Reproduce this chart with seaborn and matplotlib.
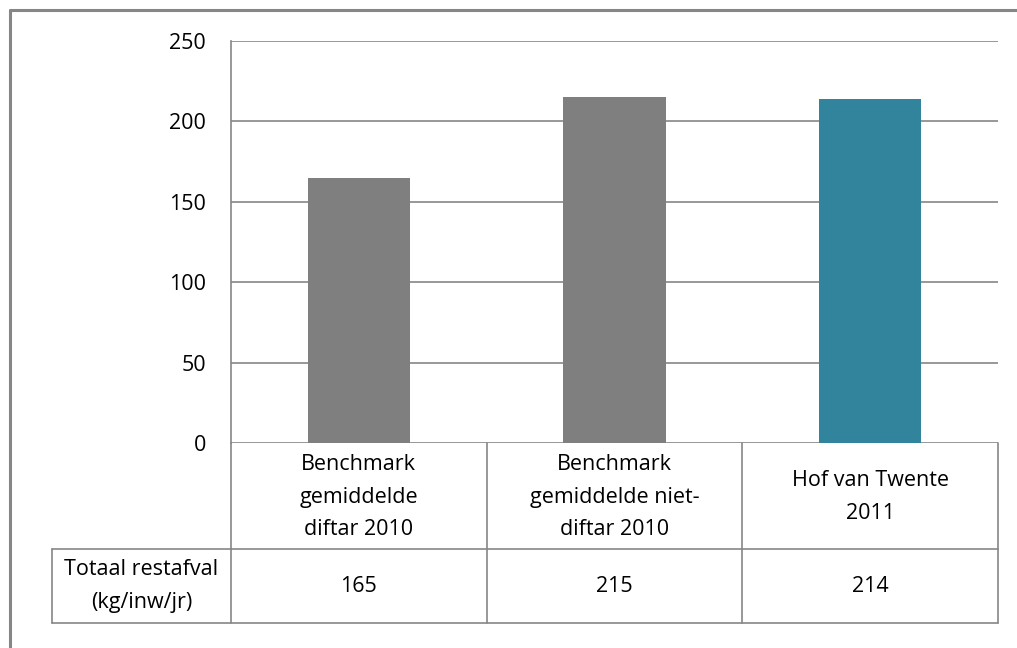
import matplotlib
matplotlib.use("Agg")
import matplotlib.pyplot as plt
import matplotlib.transforms as mtrans
import seaborn as sns
from matplotlib.lines import Line2D

categories = ["Benchmark\ngemiddelde\ndiftar 2010",
              "Benchmark\ngemiddelde niet-\ndiftar 2010",
              "Hof van Twente\n2011"]
values = [165, 215, 214]
colors = ["#7f7f7f", "#7f7f7f", "#31849b"]
row_label = "Totaal restafval\n(kg/inw/jr)"
yticks = [0, 50, 100, 150, 200, 250]

sns.set_theme(style="white")
plt.rcParams["font.family"] = ["Open Sans", "DejaVu Sans"]

W, H = 1017, 648
fig = plt.figure(figsize=(W / 100, H / 100), dpi=100)
L, R, T, B = 231, 998, 41, 443
ax = fig.add_axes([L / W, 1 - B / H, (R - L) / W, (B - T) / H])

sns.barplot(x=categories, y=values, hue=categories, palette=colors,
            legend=False, width=0.4, ax=ax, saturation=1, linewidth=0)

FS = 15.5
grid_c = "#868686"
ax.set_ylim(0, 250)
ax.set_xlim(-0.5, 2.5)
ax.set_yticks(yticks)
ax.set_yticklabels([str(t) for t in yticks], fontsize=FS, color="#000000")
ax.tick_params(axis="y", length=0, pad=18)
ax.set_xticks([])
ax.set_xlabel("")
ax.set_ylabel("")
for t in yticks:
    ax.axhline(t, color=grid_c, lw=1.2, zorder=0)
for s in ["top", "right", "bottom"]:
    ax.spines[s].set_visible(False)
ax.spines["left"].set_color(grid_c)
ax.spines["left"].set_linewidth(1.2)

axh = B - T
axw = R - L
y1 = (B - 549) / axh
y2 = (B - 623) / axh
xh = (52 - L) / axw
tr = ax.transAxes

def line(xs, ys):
    ax.add_line(Line2D(xs, ys, transform=tr, color=grid_c, lw=1.2, clip_on=False))

line([0, 0], [0, y2])
line([1, 1], [0, y2])
line([1/3, 1/3], [0, y2])
line([2/3, 2/3], [0, y2])
line([0, 1], [y1, y1])
line([xh, 1], [y2, y2])
line([xh, xh], [y1, y2])
line([xh, 0], [y1, y1])

blend = mtrans.blended_transform_factory(ax.transData, ax.transAxes)
ycat = (B - 497) / axh
yval = (B - 586) / axh
for i, (c, v) in enumerate(zip(categories, values)):
    ax.text(i, ycat, c, transform=blend, ha="center", va="center",
            fontsize=FS, linespacing=1.72, color="#000000")
    ax.text(i, yval, str(v), transform=blend, ha="center", va="center",
            fontsize=FS, color="#000000")
ax.text(xh / 2, yval, row_label, transform=tr, ha="center", va="center",
        fontsize=FS, linespacing=1.72, color="#000000")

fig.add_artist(Line2D([10 / W, 1], [1 - 10 / H, 1 - 10 / H], transform=fig.transFigure,
                      color=grid_c, lw=2.2))
fig.add_artist(Line2D([10 / W, 10 / W], [0, 1 - 10 / H], transform=fig.transFigure,
                      color=grid_c, lw=2.2))

fig.savefig("out.png", dpi=100)
